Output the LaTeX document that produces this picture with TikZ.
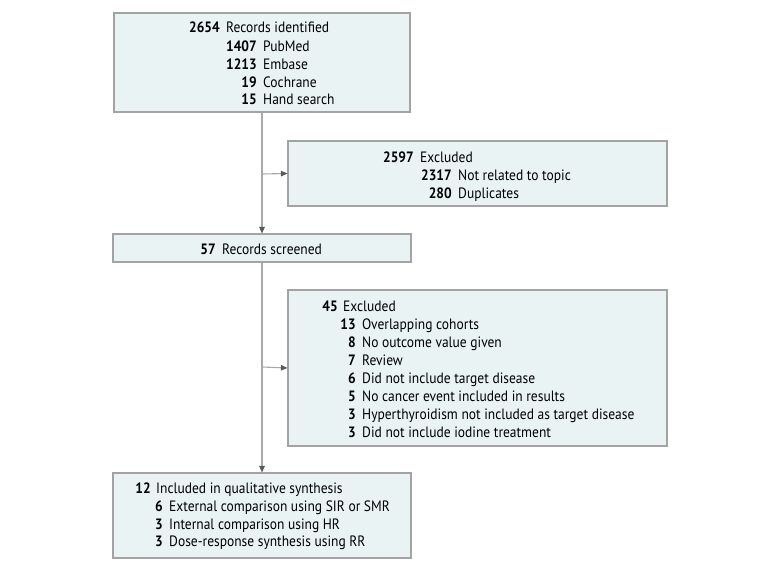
\documentclass[tikz,border=0pt]{standalone}
\usepackage{fontspec}
\setmainfont[FakeStretch=0.9]{PT Sans}
\usetikzlibrary{arrows.meta}
\definecolor{boxfill}{HTML}{EAF3F4}
\definecolor{boxline}{HTML}{A3A3A3}
\definecolor{conn}{HTML}{A8A8A8}
\definecolor{tipc}{HTML}{5A5A5A}
\begin{document}
\begin{tikzpicture}[x=1pt,y=-1pt,
  box/.style={draw=boxline,fill=boxfill,line width=1.1pt,rectangle,inner sep=0pt},
  num/.style={anchor=mid east,inner sep=0pt,yshift=-3.2pt,font=\fontsize{15}{17}\selectfont\bfseries},
  lab/.style={anchor=mid west,inner sep=0pt,yshift=-3.2pt,font=\fontsize{15}{17}\selectfont},
  conn/.style={draw=conn,line width=1.1pt},
  arr/.style={conn,-{Triangle[length=6.5pt,width=5.5pt,fill=tipc,color=tipc]}}]
\useasboundingbox (0,0) rectangle (780,569);
% boxes
\node[box,minimum width=296pt,minimum height=99pt] (b1) at (262,62.5) {};
\node[box,minimum width=379pt,minimum height=65pt] (b2) at (477.5,173.5) {};
\node[box,minimum width=298pt,minimum height=28pt] (b3) at (262,248) {};
\node[box,minimum width=379pt,minimum height=156pt] (b4) at (477.5,368) {};
\node[box,minimum width=298pt,minimum height=85pt] (b5) at (262,515.5) {};
% connectors
\coordinate (j1) at (262,174);
\coordinate (j2) at (262,367);
\draw[arr] (b1.south) -- (b3.north);
\draw[arr] (j1) -- (b2.west);
\draw[arr] (b3.south) -- (b5.north);
\draw[arr] (j2) -- (b4.west);
% box 1
\node[num] (n11) at (220,27) {2654}; \node[lab] (t11) at (226,27) {Records identified};
\node[num] (n12) at (257,45.5) {1407}; \node[lab] (t12) at (263,45.5) {PubMed};
\node[num] (n13) at (257,63.5) {1213}; \node[lab] (t13) at (263,63.5) {Embase};
\node[num] (n14) at (257,81.5) {19}; \node[lab] (t14) at (263,81.5) {Cochrane};
\node[num] (n15) at (257,99) {15}; \node[lab] (t15) at (263,99) {Hand search};
% box 2
\node[num] (n21) at (414,157) {2597}; \node[lab] (t21) at (420,157) {Excluded};
\node[num] (n22) at (452,175) {2317}; \node[lab] (t22) at (458,175) {Not related to topic};
\node[num] (n23) at (452,192.5) {280}; \node[lab] (t23) at (458,192.5) {Duplicates};
% box 3
\node[num] (n31) at (216,249) {57}; \node[lab] (t31) at (222,249) {Records screened};
% box 4
\node[num] (n41) at (338,306) {45}; \node[lab] (t41) at (343,306) {Excluded};
\node[num] (n42) at (356,323.5) {13}; \node[lab] (t42) at (362,323.5) {Overlapping cohorts};
\node[num] (n43) at (356,341.5) {8}; \node[lab] (t43) at (362,341.5) {No outcome value given};
\node[num] (n44) at (356,359.5) {7}; \node[lab] (t44) at (362,359.5) {Review};
\node[num] (n45) at (356,377.5) {6}; \node[lab] (t45) at (362,377.5) {Did not include target disease};
\node[num] (n46) at (356,395.5) {5}; \node[lab] (t46) at (362,395.5) {No cancer event included in results};
\node[num] (n47) at (356,413.5) {3}; \node[lab] (t47) at (362,413.5) {Hyperthyroidism not included as target disease};
\node[num] (n48) at (356,431.5) {3}; \node[lab] (t48) at (362,431.5) {Did not include iodine treatment};
% box 5
\node[num] (n51) at (151,488) {12}; \node[lab] (t51) at (156,488) {Included in qualitative synthesis};
\node[num] (n52) at (163,506) {6}; \node[lab] (t52) at (169,506) {External comparison using SIR or SMR};
\node[num] (n53) at (163,523.5) {3}; \node[lab] (t53) at (169,523.5) {Internal comparison using HR};
\node[num] (n54) at (163,541) {3}; \node[lab] (t54) at (169,541) {Dose-response synthesis using RR};
\end{tikzpicture}
\end{document}
